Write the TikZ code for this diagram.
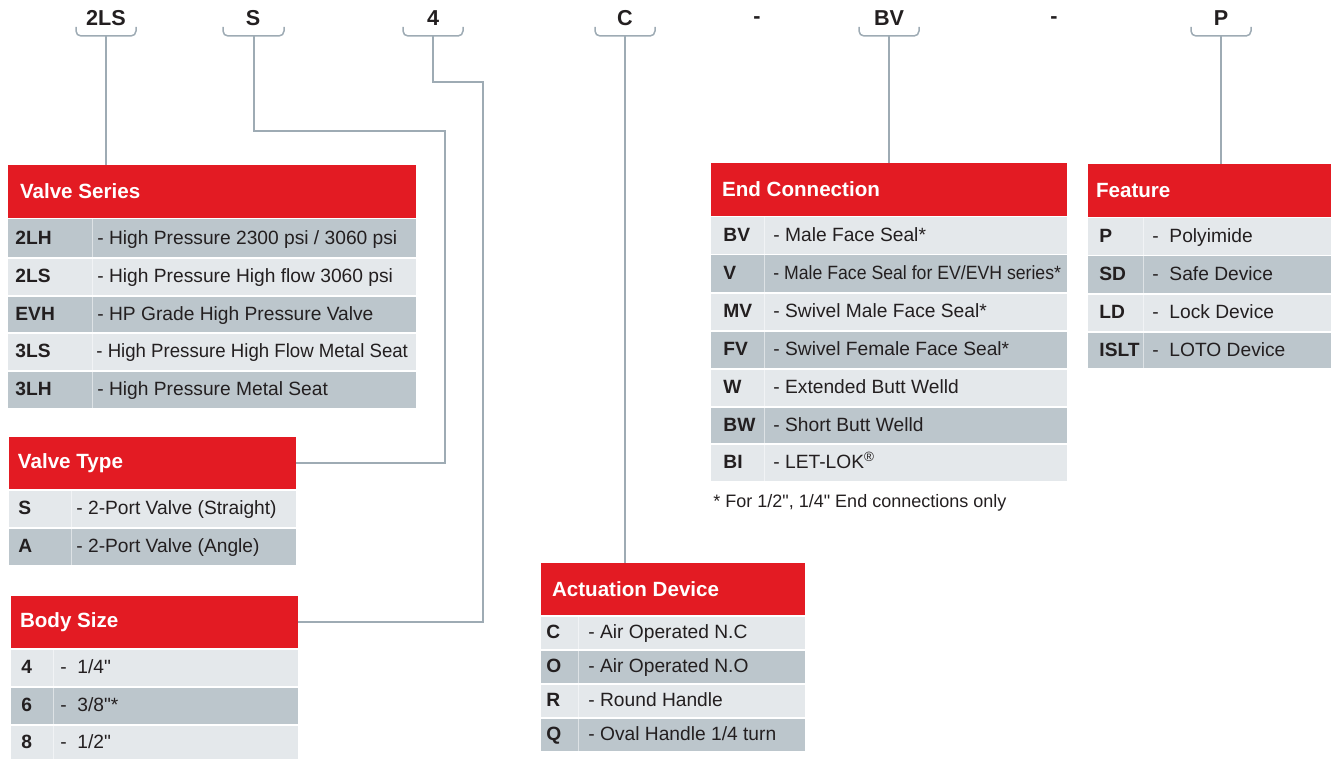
\documentclass[tikz,border=0pt]{standalone}
\usepackage{fontspec}
\setmainfont{Liberation Sans}[Ligatures=TeXOff]
\usepackage{graphicx}
\usepackage{xcolor}
\usetikzlibrary{positioning}
\definecolor{hdred}{RGB}{227,27,35}
\definecolor{rowlite}{RGB}{228,232,235}
\definecolor{rowdark}{RGB}{188,198,204}
\definecolor{lin}{RGB}{158,171,180}
\definecolor{txt}{RGB}{35,31,32}
\newcommand{\inch}{\symbol{34}}
\newcommand{\hdspace}{\spaceskip=0pt\relax\xspaceskip=0pt\relax}

\begin{document}
\begin{tikzpicture}[x=0.5pt,y=-0.5pt,
  hdr/.style={rectangle,fill=hdred,text=white,font=\bfseries\fontsize{10.3}{12}\selectfont,align=left,inner ysep=0pt,execute at begin node=\hdspace},
  cd/.style={anchor=base west,inner sep=0pt,text=txt,font=\bfseries\fontsize{9.6}{11}\selectfont},
  ds/.style={anchor=base west,inner sep=0pt,text=txt,font=\fontsize{9.6}{11}\selectfont},
  lbl/.style={anchor=base,inner sep=0pt,text=txt,font=\bfseries\fontsize{10.8}{12}\selectfont},
  conn/.style={draw=lin,line width=0.75pt},
  brc/.style={draw=lin,line width=0.75pt,rounded corners=2.5pt},
  rowl/.style={fill=rowlite},
  rowd/.style={fill=rowdark},
  sep/.style={draw=white,line width=0.35pt,draw opacity=0.5}]
\useasboundingbox (0,0) rectangle (1332,759);

% ordering code on top
\node[lbl] (l2ls) at (106,26){2LS};
\node[lbl] (ls) at (253,26){S};
\node[lbl] (l4) at (433,26){4};
\node[lbl] (lc) at (625,26){C};
\node[lbl] (dash1) at (757,24){-};
\node[lbl] (lbv) at (889,26){BV};
\node[lbl] (dash2) at (1054,24){-};
\node[lbl] (lp) at (1221,26){P};
  \draw[brc] (76,27) -- (76,36) -- (136,36) -- (136,27);
  \draw[brc] (223,27) -- (223,36) -- (284,36) -- (284,27);
  \draw[brc] (403,27) -- (403,36) -- (463,36) -- (463,27);
  \draw[brc] (595,27) -- (595,36) -- (655,36) -- (655,27);
  \draw[brc] (859,27) -- (859,36) -- (919,36) -- (919,27);
  \draw[brc] (1191,27) -- (1191,36) -- (1251,36) -- (1251,27);
\coordinate (b2ls) at (106,36);
\coordinate (bs) at (254,36);
\coordinate (b4) at (433,36);
\coordinate (bc) at (625,36);
\coordinate (bbv) at (889,36);
\coordinate (bp) at (1221,36);
\coordinate (sbend) at (445,131);
\coordinate (zbend) at (483,82);

% Valve Series
\node[hdr,text width=192pt,inner xsep=6pt,minimum height=26.5pt] (vs) at (212,191.5){Valve Series};
\fill[rowd] (8,219.5) rectangle (416,257);
\fill[rowl] (8,258.5) rectangle (416,295);
\fill[rowd] (8,296.5) rectangle (416,332);
\fill[rowl] (8,333.5) rectangle (416,370);
\fill[rowd] (8,371.5) rectangle (416,408);
\draw[sep] (92,219) -- (92,408);
\node[cd] (vs1) at (15,244.5){2LH};
\node[ds] (vs1d) at (97,244.5){- High Pressure 2300 psi / 3060 psi};
\node[cd] (vs2) at (15,282.5){2LS};
\node[ds] (vs2d) at (97,282.5){- High Pressure High flow 3060 psi};
\node[cd] (vs3) at (15,320){EVH};
\node[ds] (vs3d) at (97,320){- HP Grade High Pressure Valve};
\node[cd] (vs4) at (15,357.5){3LS};
\node[ds] (vs4d) at (96,357.5){\scalebox{0.97}[1]{- High Pressure High Flow Metal Seat}};
\node[cd] (vs5) at (15,395.5){3LH};
\node[ds] (vs5d) at (97,395.5){- High Pressure Metal Seat};

% Valve Type
\node[hdr,text width=134.5pt,inner xsep=4.5pt,minimum height=26pt] (vt) at (152.5,463){Valve Type};
\fill[rowl] (9,490.5) rectangle (296,527);
\fill[rowd] (9,528.5) rectangle (296,565);
\draw[sep] (71,490) -- (71,565);
\node[cd] (vt1) at (18,514.5){S};
\node[ds] (vt1d) at (76,514.5){- 2-Port Valve (Straight)};
\node[cd] (vt2) at (18,552.5){A};
\node[ds] (vt2d) at (76,552.5){- 2-Port Valve (Angle)};

% Body Size
\node[hdr,text width=134.5pt,inner xsep=4.5pt,minimum height=26pt] (bz) at (154.5,622){Body Size};
\fill[rowl] (11,649.5) rectangle (298,686);
\fill[rowd] (11,687.5) rectangle (298,724);
\fill[rowl] (11,725.5) rectangle (298,759);
\draw[sep] (53,649) -- (53,759);
\node[cd] (bz1) at (21,673.5){4};
\node[ds] (bz1d) at (60,673.5){-~~1/4\inch};
\node[cd] (bz2) at (21,711.5){6};
\node[ds] (bz2d) at (60,711.5){-~~3/8\inch*};
\node[cd] (bz3) at (21,748.5){8};
\node[ds] (bz3d) at (60,748.5){-~~1/2\inch};

% End Connection
\node[hdr,text width=167pt,inner xsep=5.5pt,minimum height=26.5pt] (ec) at (889,189.5){End Connection};
\fill[rowl] (711,217.5) rectangle (1067,254);
\fill[rowd] (711,255.5) rectangle (1067,292);
\fill[rowl] (711,293.5) rectangle (1067,330);
\fill[rowd] (711,331.5) rectangle (1067,368);
\fill[rowl] (711,369.5) rectangle (1067,406);
\fill[rowd] (711,407.5) rectangle (1067,443);
\fill[rowl] (711,444.5) rectangle (1067,481);
\draw[sep] (764,217) -- (764,481);
\node[cd] (ec1) at (723,241.5){BV};
\node[ds] (ec1d) at (773,241.5){- Male Face Seal*};
\node[cd] (ec2) at (723,279.5){V};
\node[ds] (ec2d) at (773,279.5){\scalebox{0.92}[1]{- Male Face Seal for EV/EVH series*}};
\node[cd] (ec3) at (723,317.5){MV};
\node[ds] (ec3d) at (773,317.5){- Swivel Male Face Seal*};
\node[cd] (ec4) at (723,355.5){FV};
\node[ds] (ec4d) at (773,355.5){- Swivel Female Face Seal*};
\node[cd] (ec5) at (723,393.5){W};
\node[ds] (ec5d) at (773,393.5){- Extended Butt Welld};
\node[cd] (ec6) at (723,431){BW};
\node[ds] (ec6d) at (773,431){- Short Butt Welld};
\node[cd] (ec7) at (723,468.5){BI};
\node[ds] (ec7d) at (773,468.5){- LET-LOK\textsuperscript{®}};
\node[ds,font=\fontsize{9}{11}\selectfont] (ecnote) at (713,507){* For 1/2\inch, 1/4\inch{} End connections only};

% Feature
\node[hdr,text width=113.5pt,inner xsep=4pt,minimum height=26.5pt] (ft) at (1209.5,190.5){Feature};
\fill[rowl] (1088,218.5) rectangle (1331,255);
\fill[rowd] (1088,256.5) rectangle (1331,293);
\fill[rowl] (1088,294.5) rectangle (1331,331);
\fill[rowd] (1088,332.5) rectangle (1331,368);
\draw[sep] (1143,218) -- (1143,368);
\node[cd] (ft1) at (1099,242.5){P};
\node[ds] (ft1d) at (1152,242.5){-~~Polyimide};
\node[cd] (ft2) at (1099,280.5){SD};
\node[ds] (ft2d) at (1152,280.5){-~~Safe Device};
\node[cd] (ft3) at (1099,318.5){LD};
\node[ds] (ft3d) at (1152,318.5){-~~Lock Device};
\node[cd] (ft4) at (1099,356){ISLT};
\node[ds] (ft4d) at (1152,356){-~~LOTO Device};

% Actuation Device
\node[hdr,text width=121pt,inner xsep=5.5pt,minimum height=26pt] (ad) at (673,589){Actuation Device};
\fill[rowl] (541,616.5) rectangle (805,649);
\fill[rowd] (541,650.5) rectangle (805,683);
\fill[rowl] (541,684.5) rectangle (805,717);
\fill[rowd] (541,718.5) rectangle (805,751);
\draw[sep] (578,616) -- (578,751);
\node[cd] (ad1) at (546,638.5){C};
\node[ds] (ad1d) at (588,638.5){- Air Operated N.C};
\node[cd] (ad2) at (546,672.5){O};
\node[ds] (ad2d) at (588,672.5){- Air Operated N.O};
\node[cd] (ad3) at (546,706.5){R};
\node[ds] (ad3d) at (588,706.5){- Round Handle};
\node[cd] (ad4) at (546,740.5){Q};
\node[ds] (ad4d) at (588,740.5){- Oval Handle 1/4 turn};

% connectors
    \draw[conn] (b2ls) -- (b2ls |- vs.north);
      \draw[conn] (bs) |- (sbend) |- (vt.east);
        \draw[conn] (b4) |- (zbend) |- (bz.east);
          \draw[conn] (bc) -- (bc |- ad.north);
            \draw[conn] (bbv) -- (bbv |- ec.north);
              \draw[conn] (bp) -- (bp |- ft.north);
\end{tikzpicture}
\end{document}
